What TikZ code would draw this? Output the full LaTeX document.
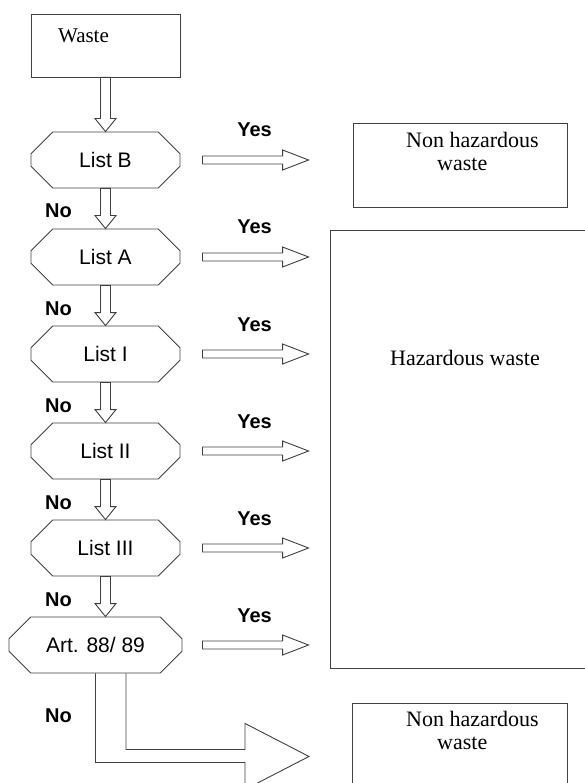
\documentclass[tikz,border=0pt]{standalone}
\usepackage{fontspec}
\setmainfont{Liberation Serif}
\setsansfont{Liberation Sans}
\usetikzlibrary{calc,shapes.misc}

\newcommand{\downblock}[2]{%
  \draw[blockline] let \p1=(#1), \p2=(#2) in
    (\x1-5pt,\y1) -- (\x1-5pt,\y2+13pt) -- (\x1-10.5pt,\y2+13pt) -- (\x1,\y2)
    -- (\x1+10.5pt,\y2+13pt) -- (\x1+5pt,\y2+13pt) -- (\x1+5pt,\y1) -- cycle;
}
\newcommand{\yesblock}[2]{%
  \draw[blockline] let \p1=(#1), \p2=(#2) in
    (\x1,\y1+4pt) -- (\x2-26pt,\y1+4pt) -- (\x2-26pt,\y1+10pt) -- (\x2,\y1)
    -- (\x2-26pt,\y1-10pt) -- (\x2-26pt,\y1-4pt) -- (\x1,\y1-4pt) -- cycle;
}

\begin{document}
\begin{tikzpicture}[x=1pt, y=-1pt,
    blockline/.style={draw=black!75, line width=0.9pt, line join=miter},
    listbox/.style={chamfered rectangle, draw=black!75, line width=0.9pt,
      chamfered rectangle xsep=14pt, chamfered rectangle ysep=14pt,
      minimum width=149pt, minimum height=56pt, inner sep=0pt,
      font=\sffamily\fontsize{21}{24}\selectfont},
    outbox/.style={rectangle, draw=black!75, line width=0.9pt, inner sep=0pt},
    serif/.style={font=\rmfamily\fontsize{22}{23}\selectfont, inner sep=0pt},
    answer/.style={font=\sffamily\bfseries\fontsize{20}{22}\selectfont, inner sep=0pt, anchor=base}]
  \useasboundingbox (0,0) rectangle (584,783);

  \node[outbox, minimum width=149pt, minimum height=63pt] (Waste) at (105.5,45.5) {};
  \node[serif, anchor=base, font=\rmfamily\fontsize{21}{23}\selectfont] (WasteText) at (83.5,43) {Waste};

  \node[listbox] (LB) at (105.5,160) {List B};
  \node[listbox] (LA) at (105.5,257) {List A};
  \node[listbox] (LI) at (105.5,354) {List I};
  \node[listbox] (LII) at (105.5,451) {List II};
  \node[listbox] (LIII) at (105.5,548) {List III};
  \node[listbox, minimum width=173pt] (Art) at (95.5,645) {Art. 88/ 89};

  \node[outbox, minimum width=214pt, minimum height=84pt] (NonHazTop) at (460,165) {};
  \node[serif, align=left, anchor=north west] (NonHazTopText) at (406,132) {Non hazardous\\\hspace*{31pt}waste};
  \node[outbox, minimum width=270pt, minimum height=438pt] (Haz) at (465,449) {};
  \node[serif, anchor=base] (HazText) at (465,365) {Hazardous waste};
  \node[outbox, minimum width=215pt, minimum height=84pt] (NonHazBot) at (459.5,745) {};
  \node[serif, align=left, anchor=north west] (NonHazBotText) at (406,711) {Non hazardous\\\hspace*{31pt}waste};

  % No branch
  \downblock{Waste.south}{LB.north}
  \downblock{LB.south}{LA.north}
  \downblock{LA.south}{LI.north}
  \downblock{LI.south}{LII.north}
  \downblock{LII.south}{LIII.north}
  \downblock{LIII.south}{$(LIII.south |- Art.north)$}
  \node[answer] (noB) at (58.5,218) {No};
  \node[answer] (noA) at (58.5,315) {No};
  \node[answer] (noI) at (58.5,412) {No};
  \node[answer] (noII) at (58.5,509) {No};
  \node[answer] (noIII) at (58.5,606) {No};
  \node[answer] (noArt) at (58.5,722) {No};

  % Yes branch
  \foreach \l in {LB,LA,LI,LII,LIII,Art}{
    \yesblock{$(LB.east |- \l.east)+(22,0)$}{$(Haz.west |- \l.east)+(-21,0)$}
    \node[answer] (yes\l) at ($(254.5,0 |- \l.east)+(0,-23)$) {Yes};
  }

  % last No to the bottom box
  \draw[blockline] let \p1=(Art.south) in
    (\x1,\y1) -- (\x1,\y1-89pt) -- (\x1+149.5pt,\y1-89pt) -- (\x1+149.5pt,\y1-116pt)
    -- (\x1+213.5pt,\y1-83pt) -- (\x1+149.5pt,\y1-50pt) -- (\x1+149.5pt,\y1-76pt)
    -- (\x1+30.5pt,\y1-76pt) -- (\x1+30.5pt,\y1);
\end{tikzpicture}
\end{document}
